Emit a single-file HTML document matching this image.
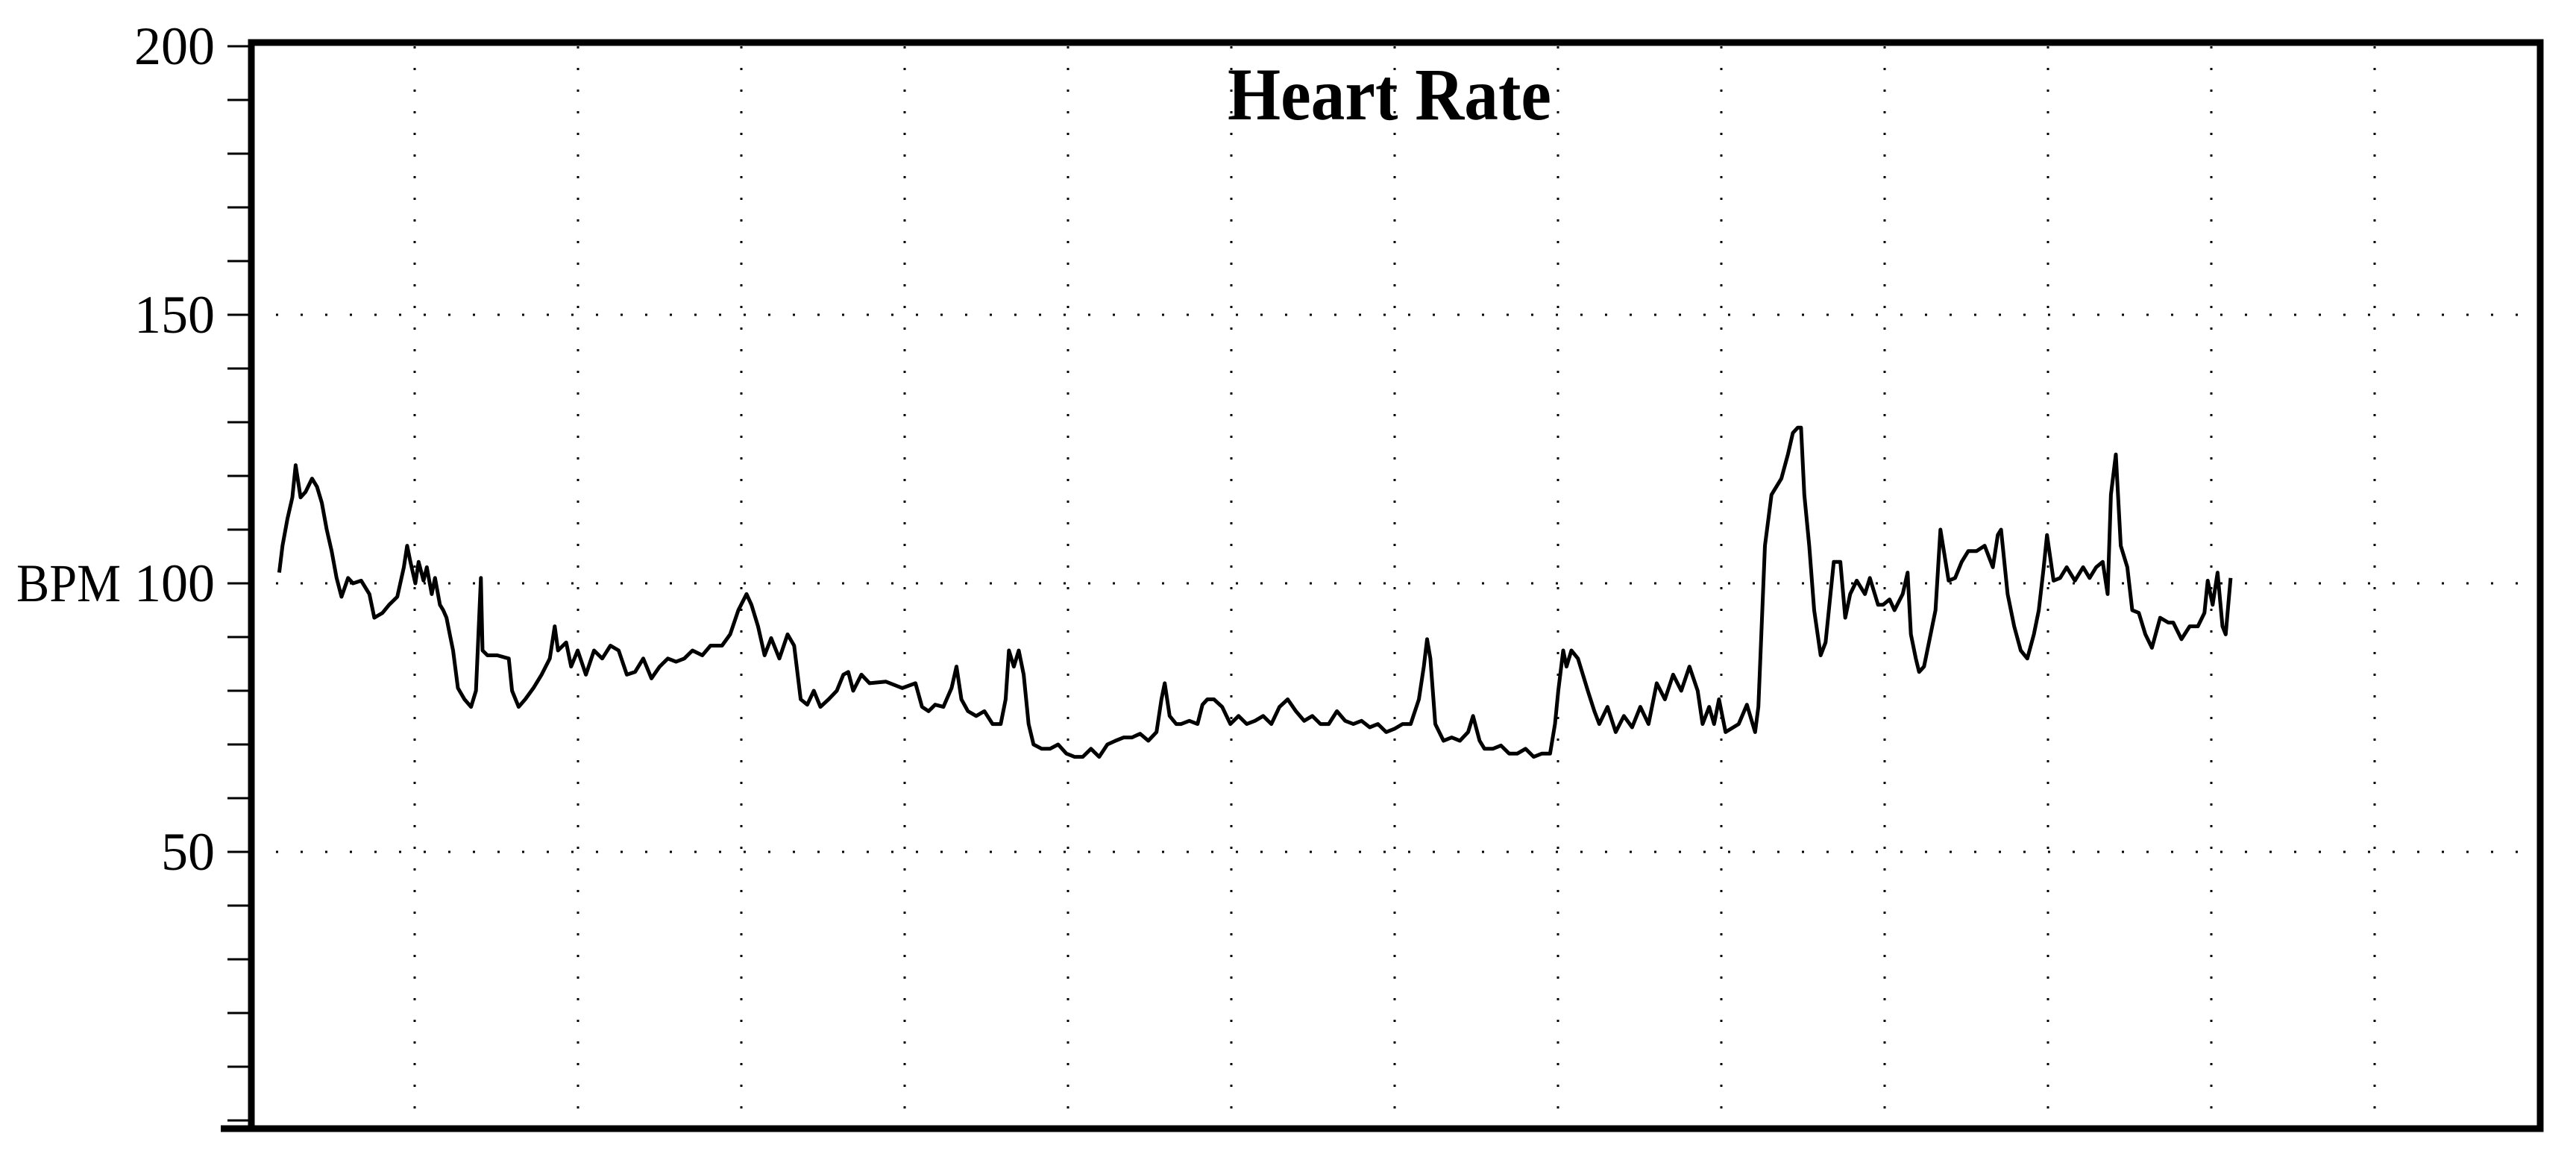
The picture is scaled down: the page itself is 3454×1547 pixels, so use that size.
<!DOCTYPE html>
<html><head><meta charset="utf-8"><title>Heart Rate</title>
<style>html,body{margin:0;padding:0;background:#fff;}svg{display:block;}</style>
</head><body>
<svg id="chart" xmlns="http://www.w3.org/2000/svg" width="3454" height="1547" viewBox="0 0 3454 1547">
<rect x="0" y="0" width="3454" height="1547" fill="#fff"/>
<g id="grid"></g>
<g id="ticks"></g>
<g id="labels"></g>
<text x="22" y="806" font-family="Liberation Serif, serif" font-size="72" textLength="140" lengthAdjust="spacingAndGlyphs" fill="#000">BPM</text>
<text x="1863" y="160" text-anchor="middle" font-family="Liberation Serif, serif" font-weight="bold" font-size="100" textLength="434" lengthAdjust="spacingAndGlyphs" fill="#000">Heart Rate</text>
<path id="series" fill="none" stroke="#000" stroke-width="5" stroke-linejoin="round"/>
<rect x="337" y="57" width="3069" height="1456" fill="none" stroke="#000" stroke-width="9"/>
<line x1="296" y1="1513" x2="3410" y2="1513" stroke="#000" stroke-width="9"/>
</svg>
<script>
// elapsed minutes
const times = [17,19,22,25,27,30,33,37,40,43,46,49,52,55,59,62,67,72,75,80,84,89,93,95,97,100,102,105,107,110,112,115,117,119,121,123,126,130,134,137,140,141,144,150,157,159,163,167,172,177,182,185,187,192,195,199,204,209,214,219,224,229,234,239,244,249,254,259,264,269,275,280,287,292,297,302,305,309,313,317,322,327,331,335,339,343,347,352,357,361,364,367,372,377,387,397,405,409,413,417,422,427,430,433,437,442,447,452,457,460,462,465,468,471,474,477,482,487,492,497,502,507,512,517,522,527,532,537,542,547,552,555,557,560,564,567,572,577,580,583,587,592,597,602,607,612,617,622,627,632,637,642,647,652,657,662,667,672,677,682,687,692,697,702,707,712,715,717,719,722,727,732,737,742,745,749,752,757,762,767,772,777,782,787,792,795,797,800,802,805,809,812,815,819,822,827,832,837,842,847,852,857,862,867,872,877,882,885,889,892,895,899,907,912,917,919,921,923,927,933,937,940,943,945,947,950,953,957,960,963,965,969,972,975,979,984,987,992,995,999,1002,1007,1010,1012,1015,1017,1020,1023,1027,1030,1035,1039,1043,1047,1052,1057,1062,1065,1067,1071,1075,1079,1083,1087,1090,1093,1095,1099,1103,1107,1112,1117,1121,1125,1129,1132,1134,1137,1140,1144,1147,1151,1155,1159,1164,1169,1172,1177,1182,1187,1191,1193,1196,1199,1202,1204,1207];
const bpm = [102,107,112,116,122,116,117,119.5,118,115,110,106,101,97.5,101,100,100.5,98,93.6,94.5,96,97.5,103,107,104,100,104,100.5,103,98,101,96,95,93.6,90.5,87.5,80.5,78.4,77,80,101,87.5,86.6,86.6,86,80,77,78.4,80.5,83,86,92,87.5,89,84.5,87.5,83,87.5,86,88.4,87.5,83,83.5,86,82.3,84.5,86,85.4,86,87.5,86.6,88.4,88.4,90.5,95,98,96,92,86.6,89.8,86,90.5,88.4,78.4,77.4,80,77,78.4,80,83,83.5,80,83,81.4,81.7,80.5,81.4,77,76.2,77.4,77,80.5,84.5,78.4,76.2,75.3,76.2,73.8,73.8,78.4,87.5,84.5,87.5,83,73.8,70,69.2,69.2,70,68.3,67.7,67.7,69.2,67.7,70,70.7,71.3,71.3,72,70.7,72.3,78.4,81.4,75.3,73.8,73.8,74.4,73.8,77.4,78.4,78.4,77,73.8,75.3,73.8,74.4,75.3,73.8,77,78.4,76.2,74.4,75.3,73.8,73.8,76.2,74.4,73.8,74.4,73.2,73.8,72.3,72.9,73.8,73.8,78.4,84.5,89.6,86,73.8,70.7,71.3,70.7,72.3,75.3,70.7,69.2,69.2,69.8,68.3,68.3,69.2,67.7,68.3,68.3,73.8,80,87.5,84.5,87.5,86,83,80,76.2,73.8,77,72.3,75.3,73.2,77,73.8,81.4,78.4,83,80,84.5,80,73.8,77,73.8,78.4,72.3,73.8,77.4,72.3,77,92,107,116.5,119.5,124,128,129,129,116.5,107,95,86.6,89,98,104,104,93.6,98,100.5,98,101,96,96,97,95,98,102,90.5,86,83.5,84.5,89,95,110,100.5,101,104,106,106,107,103,109,110,98,92,87.5,86,90.5,95,103,109,100.5,101,103,100.5,103,101,103,104,98,116.5,124,107,103,95,94.5,90.5,88,93.6,92.7,92.7,89.6,92,92,94.5,100.5,96,102,92,90.5,101,98];
const yTickValues = [0,10,20,30,40,50,60,70,80,90,100,110,120,130,140,150,160,170,180,190,200];
const yLabelValues = [50,100,150,200];
const gridYValues = [50,100,150];
const gridXCount = 13;

const tMin = 0, tMax = 1394.4, vMin = 0, vMax = 200;
const L = 337, R = 3403, TOP = 62, BOT = 1502;
function xs(t){ return L + (t - tMin) / (tMax - tMin) * (R - L); }
function ys(v){ return BOT - (v - vMin) / (vMax - vMin) * (BOT - TOP); }
const NS = "http://www.w3.org/2000/svg";
const grid = document.getElementById('grid');
const ticks = document.getElementById('ticks');
const labels = document.getElementById('labels');

for (const v of gridYValues) {
  const ln = document.createElementNS(NS, 'line');
  ln.setAttribute('x1', L); ln.setAttribute('x2', R);
  ln.setAttribute('y1', ys(v)); ln.setAttribute('y2', ys(v));
  ln.setAttribute('stroke', '#000'); ln.setAttribute('stroke-width', '3');
  ln.setAttribute('stroke-dasharray', '3 30');
  
  
  grid.appendChild(ln);
}
const step = (tMax - tMin) / 14;
for (let k = 1; k <= gridXCount; k++) {
  const x = xs(tMin + k * step);
  const ln = document.createElementNS(NS, 'line');
  ln.setAttribute('x1', x); ln.setAttribute('x2', x);
  ln.setAttribute('y1', TOP); ln.setAttribute('y2', BOT + 8);
  ln.setAttribute('stroke', '#000'); ln.setAttribute('stroke-width', '3');
  ln.setAttribute('stroke-dasharray', '3 26');
  
  
  grid.appendChild(ln);
}
for (const v of yTickValues) {
  const ln = document.createElementNS(NS, 'line');
  ln.setAttribute('x1', 305); ln.setAttribute('x2', L);
  ln.setAttribute('y1', ys(v)); ln.setAttribute('y2', ys(v));
  ln.setAttribute('stroke', '#000'); ln.setAttribute('stroke-width', '3');
  
  
  ticks.appendChild(ln);
}
for (const v of yLabelValues) {
  const tx = document.createElementNS(NS, 'text');
  tx.setAttribute('x', 288); tx.setAttribute('y', ys(v) + 24);
  tx.setAttribute('text-anchor', 'end');
  tx.setAttribute('font-family', 'Liberation Serif, serif');
  tx.setAttribute('font-size', '72');
  tx.textContent = String(v);
  
  
  labels.appendChild(tx);
}
let d = '';
for (let i = 0; i < times.length && i < bpm.length; i++) {
  d += (i ? 'L' : 'M') + xs(times[i]).toFixed(1) + ' ' + ys(bpm[i]).toFixed(1);
}
document.getElementById('series').setAttribute('d', d);
</script>
</body></html>
